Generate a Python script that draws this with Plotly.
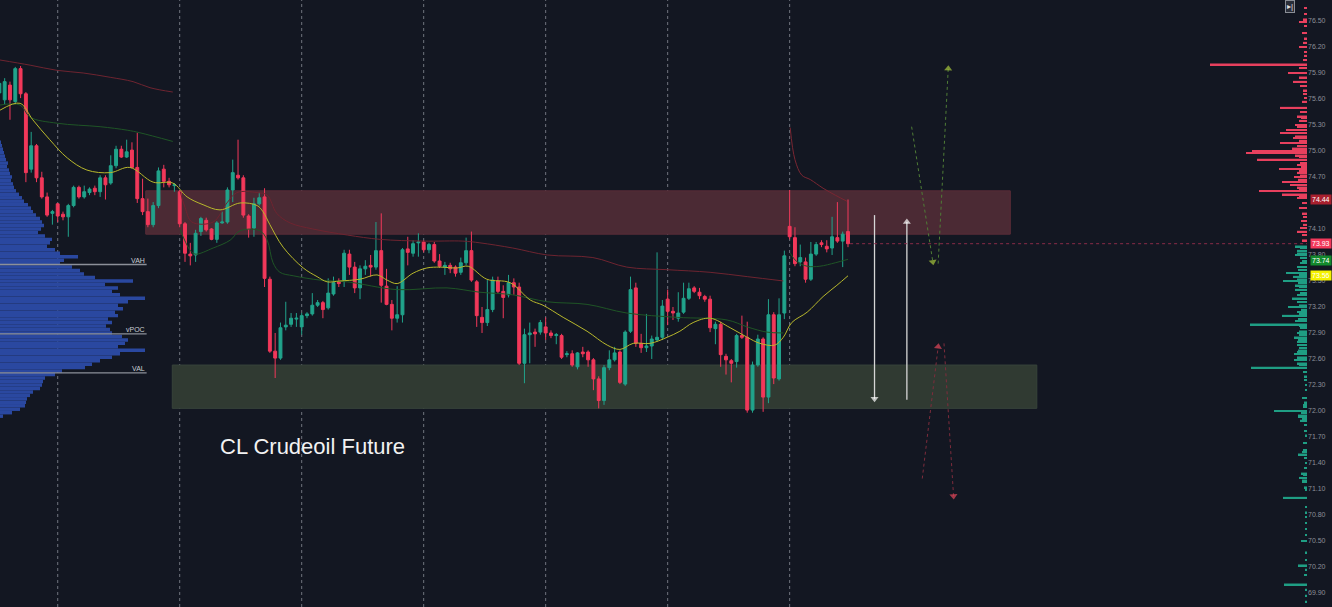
import plotly.graph_objects as go

# ---------------- data ----------------
candle_idx = list(range(-11, 150))
opens = [75.67,75.59,75.76,75.57,75.95,75.66,74.79,75.06,74.69,74.47,74.28,
         74.39,74.27,74.24,74.37,74.58,74.47,74.52,74.57,74.53,74.69,74.63,74.83,75.02,74.93,75.01,74.81,74.45,74.30,74.15,74.37,74.79,74.65,74.60,
         74.53,74.16,73.81,73.80,74.07,74.20,74.10,73.98,74.17,74.18,74.55,74.72,74.69,74.25,74.11,74.39,74.47,73.52,72.69,72.61,72.97,73.00,73.06,
         72.97,73.10,73.12,73.22,73.25,73.19,73.35,73.49,73.51,73.81,73.66,73.42,73.64,73.68,73.66,73.85,73.44,73.23,73.07,73.11,73.87,73.82,73.94,
         73.95,73.86,73.92,73.73,73.66,73.68,73.66,73.60,73.71,73.85,73.49,73.08,73.02,73.17,73.50,73.38,73.34,73.48,73.43,72.55,72.88,72.91,72.91,
         72.97,72.90,72.87,72.87,72.65,72.66,72.51,72.68,72.68,72.59,72.37,72.12,72.50,72.59,72.68,72.31,72.92,73.42,72.78,72.73,72.75,72.82,72.85,
         73.29,73.15,73.07,73.14,73.30,73.42,73.37,73.32,73.29,72.95,73.00,72.63,72.58,72.57,72.87,72.85,72.01,72.53,72.83,72.16,73.11,72.37,73.13,
         74.13,74.00,73.72,73.72,73.52,73.81,73.94,73.90,73.88,74.00,73.96,74.07]
highs = [75.84,75.84,75.80,75.97,75.98,75.68,75.22,75.08,74.76,74.52,74.32,
         74.40,74.30,74.39,74.60,74.60,74.60,74.58,74.60,74.72,74.72,74.95,75.06,75.06,75.13,75.10,75.21,74.68,74.45,74.41,74.81,74.84,74.69,74.63,
         74.55,74.18,73.94,74.09,74.24,74.23,74.11,74.19,74.30,74.58,74.90,75.13,74.72,74.27,74.46,74.52,74.57,73.55,72.90,73.02,73.26,73.13,73.13,
         73.13,73.14,73.36,73.28,73.27,73.53,73.55,73.53,73.86,73.86,73.72,73.68,73.74,73.80,74.18,74.28,73.64,73.28,73.44,73.88,74.01,73.97,74.05,
         73.97,73.94,73.95,73.81,73.72,73.71,73.68,73.77,74.00,74.07,73.51,73.20,73.51,73.55,73.55,73.45,73.57,73.53,73.48,72.95,73.02,72.95,73.05,
         73.08,72.93,72.90,72.89,72.69,72.70,72.68,72.74,72.70,72.61,72.40,72.53,72.70,72.74,72.70,72.93,73.55,73.48,72.89,73.12,72.87,73.83,73.28,
         73.40,73.20,73.37,73.48,73.48,73.44,73.42,73.34,73.33,73.03,73.03,72.66,72.60,72.89,73.10,73.03,72.57,72.88,72.85,73.29,73.14,73.30,73.85,
         74.55,74.12,73.92,73.77,73.95,73.95,73.97,73.97,74.24,74.41,74.07,74.44]
lows = [75.61,75.54,75.36,75.54,75.61,74.64,74.75,74.64,74.45,74.24,74.15,
        74.18,74.20,74.01,74.35,74.45,74.45,74.49,74.49,74.47,74.44,74.61,74.80,74.92,74.92,74.80,74.40,74.26,74.12,74.12,74.34,74.58,74.58,74.53,
        74.12,73.72,73.68,73.72,74.02,74.07,73.97,73.94,74.16,74.16,74.41,74.67,74.23,74.00,74.01,74.37,73.43,72.67,72.38,72.59,72.93,72.97,72.97,
        72.88,73.07,73.10,73.20,73.07,73.17,73.33,73.43,73.43,73.57,73.36,73.29,73.57,73.55,73.63,73.25,73.22,72.93,73.02,73.02,73.68,73.78,73.78,
        73.83,73.82,73.71,73.65,73.57,73.59,73.55,73.57,73.68,73.49,72.97,72.90,72.98,73.14,73.36,73.07,73.31,73.34,72.53,72.32,72.55,72.74,72.88,
        72.82,72.84,72.77,72.60,72.62,72.51,72.48,72.62,72.51,72.24,72.03,72.07,72.47,72.57,72.31,72.29,72.90,72.74,72.67,72.68,72.60,72.80,72.82,
        72.99,73.05,73.03,73.12,73.28,73.36,73.29,73.26,72.91,72.77,72.51,72.42,72.33,72.50,72.83,71.98,71.98,72.51,71.99,72.09,72.31,72.35,73.06,
        73.98,73.67,73.67,73.48,73.50,73.79,73.89,73.83,73.80,73.94,73.66,73.89]
closes = [75.78,75.80,75.59,75.95,75.66,74.75,75.06,74.69,74.47,74.26,74.30,
          74.25,74.24,74.37,74.58,74.47,74.53,74.56,74.53,74.69,74.61,74.83,75.02,74.93,74.99,74.81,74.45,74.30,74.15,74.37,74.77,74.65,74.61,74.61,
          74.16,73.82,73.79,74.05,74.22,74.09,73.98,74.17,74.18,74.55,74.75,74.69,74.26,74.10,74.39,74.46,73.53,72.69,72.61,72.96,72.99,73.07,73.07,
          73.10,73.12,73.22,73.25,73.17,73.36,73.48,73.47,73.82,73.66,73.42,73.64,73.67,73.66,73.85,73.45,73.23,73.07,73.11,73.86,73.83,73.93,73.95,
          73.86,73.92,73.73,73.67,73.68,73.64,73.59,73.71,73.85,73.51,73.10,73.02,73.17,73.51,73.38,73.31,73.48,73.43,72.55,72.88,72.90,72.89,73.02,
          72.90,72.87,72.88,72.62,72.66,72.53,72.67,72.66,72.59,72.37,72.12,72.50,72.59,72.67,72.33,72.91,73.40,72.78,72.73,72.75,72.83,72.85,73.21,
          73.15,73.13,73.13,73.30,73.41,73.38,73.33,73.29,72.96,73.00,72.65,72.59,72.55,72.87,72.85,72.01,72.53,72.83,72.16,73.11,72.38,73.11,73.79,
          74.01,73.70,73.77,73.52,73.81,73.92,73.92,73.87,74.01,73.96,74.04,73.93]

# moving average (yellow)
ma_idx = [-10.9,-7.1,-4.7,-1.5,1.8,5.5,9.9,13.6,18.0,21.7,24.4,27.4,30.6,34.4,37.6,38.7,40.0,42.5,46.3,48.9,50.8,
          53.2,57.0,60.2,62.1,64.0,67.0,69.6,72.1,75.3,77.4,80.9,85.3,89.1,91.5,95.3,99.8,103.6,106.0,108.5,111.7,
          114.9,117.3,119.8,123.0,126.8,130.0,132.4,135.2,136.8,138.4,141.3,144.3,146.9,149.0]
ma_val = [75.47,75.55,75.36,75.13,74.92,74.78,74.75,74.81,74.64,74.63,74.47,74.38,74.32,74.40,74.37,74.30,74.15,73.89,73.65,73.55,73.49,
          73.50,73.52,73.57,73.51,73.47,73.59,73.65,73.66,73.65,73.67,73.52,73.48,73.28,73.22,73.08,72.92,72.76,72.71,72.78,72.78,
          72.85,72.92,73.02,73.07,72.96,72.85,72.78,72.76,72.85,73.02,73.14,73.32,73.45,73.56]

# VWAP bands (upper red / lower green) per anchor
upA_idx = [-10.9,-5.2,-0.1,4.8,9.9,14.2,17.4,21.7]
upA_val = [76.05,75.99,75.93,75.90,75.85,75.80,75.73,75.68]
loA_idx = [-10.9,-7.1,-5.2,-0.1,8.0,13.1,15.5,21.7]
loA_val = [75.53,75.53,75.39,75.32,75.28,75.24,75.21,75.11]
upB_idx = [23.1,24.0,25.3,29.3,31.9,33.8,37.6,39.5,41.3,43.8,48.1,54.6,60.8,68.9,76.4,79.6,85.8,92.3,100.9,107.3,114.9,123.0,130.0,136.8]
upB_val = [74.53,74.35,74.18,74.18,74.40,74.52,74.52,74.49,74.28,74.17,74.10,74.03,73.98,73.96,73.96,73.94,73.88,73.80,73.77,73.66,73.63,73.60,73.55,73.50]
loB_idx = [23.1,24.9,25.9,29.3,32.5,34.4,38.1,39.5,40.6,41.9,44.4,49.5,54.6,64.0,73.4,79.6,85.8,92.3,99.8,107.3,116.8,126.2,130.0,133.7,136.8]
loB_val = [74.09,73.86,73.81,73.88,73.97,74.08,74.08,73.97,73.71,73.60,73.56,73.51,73.49,73.40,73.42,73.37,73.34,73.26,73.23,73.13,73.08,73.05,72.97,72.91,72.90]
upC_idx = [138.1,139.0,140.3,141.9,144.3,146.6,148.8]
upC_val = [75.27,74.90,74.72,74.67,74.57,74.49,74.42]
loC_idx = [138.1,139.4,141.3,143.7,146.6,149.0]
loC_val = [73.82,73.72,73.67,73.67,73.71,73.75]

# left (session) volume profile
lp_price = [75.10,75.06,75.02,74.98,74.94,74.90,74.86,74.82,74.78,74.74,
            74.70,74.66,74.62,74.58,74.54,74.50,74.46,74.42,74.38,74.34,
            74.30,74.26,74.22,74.18,74.14,74.10,74.06,74.02,73.98,73.94,
            73.90,73.86,73.82,73.78,73.74,73.70,73.66,73.62,73.58,73.54,
            73.50,73.46,73.42,73.38,73.34,73.30,73.26,73.22,73.18,73.14,
            73.10,73.06,73.02,72.98,72.94,72.90,72.86,72.82,72.78,72.74,
            72.70,72.66,72.62,72.58,72.54,72.50,72.46,72.42,72.38,72.34,
            72.30,72.26,72.22,72.18,72.14,72.10,72.06,72.02,71.98,71.94]
lp_vol = [1,2,3,4,5,6,8,7,9,10,
          12,11,13,14,16,19,22,24,28,31,
          33,36,40,42,44,41,38,45,52,50,
          47,55,60,78,64,60,72,80,84,95,
          133,105,118,112,120,145,128,118,123,115,
          118,108,112,106,110,112,122,128,125,118,
          145,120,112,100,92,85,62,55,45,43,
          42,40,33,30,27,26,25,20,12,3]
lp_levels = {"VAH": 73.69, "vPOC": 72.89, "VAL": 72.44}

# right (visible range) volume profile
rp_up_price = [76.65,76.58,76.52,76.49,76.44,76.36,76.30,76.25,76.20,76.14,76.10,76.05,76.00,75.96,75.90,75.85,75.80,75.75,75.70,75.66,
               75.61,75.57,75.50,75.45,75.40,75.38,75.35,75.30,75.28,75.24,75.21,75.17,75.15,75.12,75.09,75.06,75.03,75.00,74.98,74.95,
               74.93,74.90,74.86,74.84,74.82,74.79,74.77,74.75,74.72,74.70,74.67,74.64,74.61,74.58,74.56,74.54,74.50,74.48,74.46,74.40,
               74.34,74.28,74.24,74.19,74.15,74.11,74.07,74.03,73.97]
rp_up_vol = [3,3,4,8,3,5,3,4,8,3,3,4,97,8,19,8,14,7,4,4,
             3,5,27,7,10,6,8,12,10,21,27,12,14,8,27,10,15,55,61,12,
             8,50,7,10,6,28,8,10,7,13,9,25,17,10,8,48,25,8,10,5,
             8,5,4,6,4,7,10,5,5]
rp_dn_price = [73.90,73.88,73.85,73.82,73.80,73.77,73.73,73.71,73.66,73.63,73.59,73.57,73.55,73.52,73.50,73.48,73.45,73.43,73.40,73.36,
               73.34,73.30,73.26,73.22,73.20,73.17,73.14,73.12,73.10,73.06,73.04,73.00,72.98,72.96,72.92,72.90,72.88,72.85,72.82,72.80,
               72.76,72.73,72.70,72.68,72.66,72.62,72.59,72.55,72.53,72.50,72.45,72.40,72.36,72.30,72.24,72.15,72.10,72.07,72.05,72.00,
               71.98,71.95,71.93,71.91,71.89,71.84,71.77,71.72,71.63,71.55,71.53,71.50,71.46,71.40,71.34,71.28,71.26,71.23,71.20,71.18,
               71.12,71.09,71.00,70.89,70.83,70.78,70.71,70.64,70.57,70.50,70.37,70.28,70.22,70.17,70.11,70.00,69.94,69.87,69.80]
rp_dn_vol = [12,7,10,10,12,7,5,7,10,9,21,8,14,10,24,9,12,8,12,7,
             10,15,10,8,19,6,10,8,25,9,12,57,8,7,8,10,8,13,9,10,
             10,8,9,10,13,10,13,10,8,56,4,3,3,2,2,5,3,4,4,33,
             6,9,9,5,7,3,3,2,4,4,5,9,3,2,3,6,4,8,5,5,
             3,2,24,2,2,2,2,2,2,6,2,2,9,2,3,23,2,2,2]

# zones, session starts, projections
resist_zone = (74.04, 74.54, 16.6, 179.6)
support_zone = (72.03, 72.53, 21.6, 184.6)
session_starts = [0, 23, 46, 69, 92, 115, 138]
last_price = 73.93
arrows = [  # (x list, y list, line colour, head colour, dash)
    ([154.0, 154.0], [74.26, 72.14], "#d6d6d6", "#ffffff", "solid"),
    ([160.1, 160.1], [72.13, 74.18], "#d6d6d6", "#ffffff", "solid"),
    ([161.0, 165.0], [75.28, 73.72], "#4f7d36", "#a8c83c", "dot"),
    ([166.0, 167.9], [73.70, 75.95], "#4f7d36", "#a8c83c", "dot"),
    ([163.0, 166.0], [71.22, 72.74], "#7e2c3c", "#e2475a", "dot"),
    ([167.1, 168.9], [72.78, 71.02], "#7e2c3c", "#e2475a", "dot"),
]
tick_vals = [69.90,70.20,70.50,70.80,71.10,71.40,71.70,72.00,72.30,72.60,72.90,73.20,73.50,73.80,74.10,74.40,74.70,75.00,75.30,75.60,75.90,76.20,76.50]
price_tags = [(74.44, "#a8202e", "#ffffff"), (73.93, "#f2385a", "#ffffff"),
              (73.74, "#12892c", "#ffffff"), (73.56, "#f5f200", "#ffffff")]

# ---------------- figure ----------------
BG = "#131722"
UP = "#21a38b"
DN = "#f2385a"
FONT = "Liberation Sans, Arial, sans-serif"

fig = go.Figure()

fig.add_trace(go.Bar(x=lp_vol, y=lp_price, orientation="h", xaxis="x2", yaxis="y",
                     width=0.04, marker=dict(color="#2a48a0", line=dict(width=0)),
                     hoverinfo="skip", showlegend=False))
fig.add_trace(go.Bar(x=rp_up_vol, y=rp_up_price, orientation="h", xaxis="x3", yaxis="y",
                     width=0.018, marker=dict(color="#e8405e", line=dict(width=0)),
                     hoverinfo="skip", showlegend=False))
fig.add_trace(go.Bar(x=rp_dn_vol, y=rp_dn_price, orientation="h", xaxis="x3", yaxis="y",
                     width=0.018, marker=dict(color="#1f9e84", line=dict(width=0)),
                     hoverinfo="skip", showlegend=False))

for xs, ys, col in [(upA_idx, upA_val, "#6e2430"), (loA_idx, loA_val, "#1f5526"),
                    (upB_idx, upB_val, "#6e2430"), (loB_idx, loB_val, "#1f5526"),
                    (upC_idx, upC_val, "#7a2632"), (loC_idx, loC_val, "#1f5526")]:
    fig.add_trace(go.Scatter(x=xs, y=ys, mode="lines", line=dict(color=col, width=1, shape="spline"),
                             hoverinfo="skip", showlegend=False))
fig.add_trace(go.Scatter(x=ma_idx, y=ma_val, mode="lines", line=dict(color="#b8b82c", width=1, shape="spline"),
                         hoverinfo="skip", showlegend=False))

fig.add_trace(go.Candlestick(x=candle_idx, open=opens, high=highs, low=lows, close=closes,
                             increasing=dict(line=dict(color=UP, width=1), fillcolor=UP),
                             decreasing=dict(line=dict(color=DN, width=1), fillcolor=DN),
                             whiskerwidth=0, hoverinfo="skip", showlegend=False))

for xs, ys, lc, hc, dash in arrows:
    fig.add_trace(go.Scatter(x=xs, y=ys, mode="lines", line=dict(color=lc, width=1.3 if dash == "solid" else 1, dash=dash),
                             hoverinfo="skip", showlegend=False))
    fig.add_trace(go.Scatter(x=xs, y=ys, mode="markers",
                             marker=dict(symbol="triangle-up", size=[0, 7], color=hc, angleref="previous",
                                         line=dict(width=0)),
                             hoverinfo="skip", showlegend=False))

shapes = []
for y0, y1, x0, x1, fill, edge in [(*resist_zone, "#4b2a34", "#5a2c38"), (*support_zone, "#303a32", "#37433a")]:
    shapes.append(dict(type="rect", xref="x", yref="y", x0=x0, x1=x1, y0=y0, y1=y1,
                       fillcolor=fill, line=dict(color=edge, width=1), layer="below"))
for s in session_starts:
    shapes.append(dict(type="line", xref="x", yref="paper", x0=s, x1=s, y0=0, y1=1,
                       line=dict(color="#70747e", width=1, dash="dot"), layer="below"))
shapes.append(dict(type="line", xref="x", yref="y", x0=candle_idx[-1] + 0.4, x1=240, y0=last_price, y1=last_price,
                   line=dict(color="#8a2c48", width=1, dash="dot")))
for name, lvl in lp_levels.items():
    shapes.append(dict(type="line", xref="paper", yref="y", x0=0, x1=0.1122, y0=lvl, y1=lvl,
                       line=dict(color="#8c9099", width=1.3)))

annotations = []
for name, lvl in lp_levels.items():
    annotations.append(dict(xref="paper", yref="y", x=0.1122, y=lvl, text=name, showarrow=False,
                            xanchor="right", yanchor="bottom", yshift=-1,
                            font=dict(size=7, color="#c9cdd4", family=FONT)))
for val, bg, fc in price_tags:
    annotations.append(dict(xref="paper", yref="y", x=1, y=val, text=f"{val:.2f}", showarrow=False,
                            xanchor="left", yanchor="middle", xshift=3, bgcolor=bg, borderpad=1,
                            font=dict(size=7, color=fc, family=FONT)))
annotations.append(dict(xref="paper", yref="paper", x=0.1668, y=0.2652, text="CL Crudeoil Future",
                        showarrow=False, xanchor="left", yanchor="middle",
                        font=dict(size=22, color="#f2f2f2", family=FONT)))
annotations.append(dict(xref="paper", yref="paper", x=0.987, y=0.99, text="▸|", showarrow=False,
                        xanchor="center", yanchor="middle", bgcolor="#2a2e39", bordercolor="#8a8e96",
                        borderwidth=1, borderpad=1, font=dict(size=8, color="#e0e0e0", family=FONT)))

# the 74.40 tick sits under the 74.44 price tag, as in the reference
tick_text = ["" if abs(v - 74.40) < 1e-6 else f"{v:.2f}" for v in tick_vals]

fig.update_layout(
    width=1332, height=607,
    margin=dict(l=0, r=25, t=0, b=0),
    paper_bgcolor=BG, plot_bgcolor=BG,
    showlegend=False, barmode="overlay", boxgap=0.22,
    xaxis=dict(range=[-10.88, 235.54], visible=False, rangeslider=dict(visible=False),
               showgrid=False, zeroline=False),
    xaxis2=dict(overlaying="x", range=[0, 1307], visible=False),
    xaxis3=dict(overlaying="x", range=[1307, 0], visible=False),
    yaxis=dict(range=[69.738, 76.742], side="right", tickvals=tick_vals,
               ticktext=tick_text, ticks="", showgrid=False,
               zeroline=False, showline=False,
               tickfont=dict(size=7, color="#8b8f98", family=FONT)),
    shapes=shapes, annotations=annotations,
    font=dict(family=FONT),
)

fig.write_html("out.html")
